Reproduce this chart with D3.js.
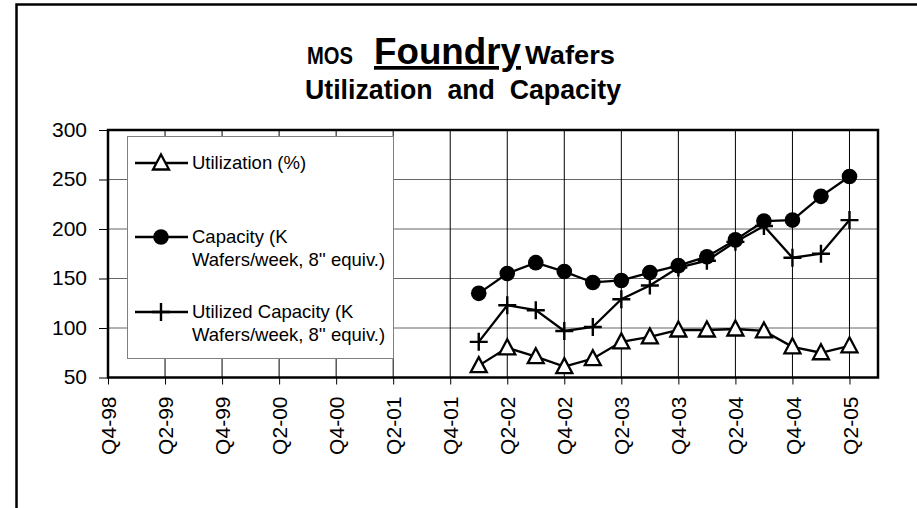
<!DOCTYPE html>
<html>
<head>
<meta charset="utf-8">
<script src="https://cdn.jsdelivr.net/npm/d3@7"></script>
<style>
body { margin: 0; background: #fff; }
svg text { font-family: "Liberation Sans", Arial, sans-serif; fill: #000; }
</style>
</head>
<body>
<div id="chart"></div>
<script>
// quarters on the category axis (one point each)
var quarters = ["Q4-98","Q1-99","Q2-99","Q3-99","Q4-99","Q1-00","Q2-00","Q3-00","Q4-00",
  "Q1-01","Q2-01","Q3-01","Q4-01","Q1-02","Q2-02","Q3-02","Q4-02","Q1-03","Q2-03","Q3-03",
  "Q4-03","Q1-04","Q2-04","Q3-04","Q4-04","Q1-05","Q2-05","Q3-05"];
var tickLabels = ["Q4-98","Q2-99","Q4-99","Q2-00","Q4-00","Q2-01","Q4-01","Q2-02","Q4-02",
  "Q2-03","Q4-03","Q2-04","Q4-04","Q2-05"];
var dataQuarters = ["Q1-02","Q2-02","Q3-02","Q4-02","Q1-03","Q2-03","Q3-03","Q4-03",
  "Q1-04","Q2-04","Q3-04","Q4-04","Q1-05","Q2-05"];
var utilization = [62, 80, 71, 61, 69, 86, 91, 98, 98, 99, 97, 81, 75, 82];
var capacity = [135, 155, 166, 157, 146, 148, 156, 163, 172, 189, 208, 209, 233, 253];
var utilized = [86, 123, 118, 97, 101, 129, 143, 161, 168, 187, 203, 171, 175, 209];
var yTicks = [50, 100, 150, 200, 250, 300];

var W = 917, H = 508;
var plot = {left: 108, right: 878, top: 130, bottom: 377.5};

var svg = d3.select("#chart").append("svg")
  .attr("width", W).attr("height", H);

// outer frame (runs off right and bottom)
svg.append("path")
  .attr("d", "M16.5," + H + "V4.5H" + W)
  .attr("fill", "none").attr("stroke", "#000").attr("stroke-width", 2.5);

var x = d3.scalePoint().domain(quarters).range([plot.left, plot.right]);
var y = d3.scaleLinear().domain([50, 300]).range([plot.bottom, plot.top]);

// title - pieces placed separately, widths matched to the picture
function titlePart(txt, x0, w, size, base){
  return svg.append("text").attr("x", x0).attr("y", base)
    .attr("textLength", w).attr("lengthAdjust", "spacingAndGlyphs")
    .style("font-weight", "bold").style("font-size", size + "px")
    .style("white-space", "pre").text(txt);
}
titlePart("MOS", 307, 46, 23, 64);
titlePart("Foundry", 374, 147, 37, 64).style("text-decoration", "underline");
titlePart("Wafers", 525, 90, 26, 64);
titlePart("Utilization  and  Capacity", 305, 316, 27, 99);

// grid
var g = svg.append("g");
g.selectAll(".hg").data(yTicks.slice(1, -1)).enter().append("line")
  .attr("x1", plot.left).attr("x2", plot.right)
  .attr("y1", function(d){ return y(d); }).attr("y2", function(d){ return y(d); })
  .attr("stroke", "#666").attr("stroke-width", 1);
g.selectAll(".vg").data(tickLabels.slice(1)).enter().append("line")
  .attr("x1", function(d){ return x(d); }).attr("x2", function(d){ return x(d); })
  .attr("y1", plot.top).attr("y2", plot.bottom)
  .attr("stroke", "#000").attr("stroke-width", 1);

// axes
var yAxis = d3.axisLeft(y).tickValues(yTicks).tickSize(9).tickPadding(12);
var ya = svg.append("g").attr("transform", "translate(" + plot.left + ",0)").call(yAxis);
ya.select(".domain").remove();
ya.selectAll("text").style("font-size", "21px").attr("dy", "0.3em");

var xAxis = d3.axisBottom(x).tickValues(tickLabels).tickSize(7).tickPadding(6);
var xa = svg.append("g").attr("transform", "translate(0," + plot.bottom + ")").call(xAxis);
xa.select(".domain").remove();
xa.selectAll("text")
  .style("font-size", "21px")
  .style("text-anchor", "end")
  .attr("transform", "rotate(-90)")
  .attr("x", -19).attr("y", 0).attr("dy", "0.36em");

// plot frame
svg.append("rect")
  .attr("x", plot.left).attr("y", plot.top)
  .attr("width", plot.right - plot.left).attr("height", plot.bottom - plot.top)
  .attr("fill", "none").attr("stroke", "#000").attr("stroke-width", 2.5);

// series
var line = d3.line()
  .x(function(d, i){ return x(dataQuarters[i]); })
  .y(function(d){ return y(d); });

function triangle(sel){
  sel.append("path").attr("d", "M0,-8.5L8,6.5L-8,6.5Z")
    .attr("fill", "#fff").attr("stroke", "#000").attr("stroke-width", 2.3)
    .attr("stroke-linejoin", "miter");
}
function dot(sel){
  sel.append("circle").attr("r", 7.8).attr("fill", "#000");
}
function plus(sel){
  sel.append("path").attr("d", "M-9,0H9M0,-9V9")
    .attr("stroke", "#000").attr("stroke-width", 2.4);
}

var series = [
  {name: "Utilization (%)", values: utilization, marker: triangle},
  {name: "Capacity (K|Wafers/week, 8'' equiv.)", values: capacity, marker: dot},
  {name: "Utilized Capacity (K|Wafers/week, 8'' equiv.)", values: utilized, marker: plus}
];

series.forEach(function(s){
  svg.append("path").datum(s.values).attr("d", line)
    .attr("fill", "none").attr("stroke", "#000").attr("stroke-width", 2.3);
});
series.forEach(function(s){
  svg.selectAll(null).data(s.values).enter().append("g")
    .attr("transform", function(d, i){ return "translate(" + x(dataQuarters[i]) + "," + y(d) + ")"; })
    .call(s.marker);
});

// legend
var lg = svg.append("g");
lg.append("rect").attr("x", 127.5).attr("y", 136.5).attr("width", 266).attr("height", 222)
  .attr("fill", "#fff").attr("stroke", "#808080").attr("stroke-width", 1);
var rowY = [163, 237, 312];
series.forEach(function(s, i){
  var r = lg.append("g").attr("transform", "translate(0," + rowY[i] + ")");
  r.append("line").attr("x1", 135).attr("x2", 188).attr("y1", 0).attr("y2", 0)
    .attr("stroke", "#000").attr("stroke-width", 2.3);
  r.append("g").attr("transform", "translate(161,0)").call(s.marker);
  var tx = r.append("text").attr("x", 192).attr("y", 0).style("font-size", "18.5px");
  s.name.split("|").forEach(function(part, k){
    tx.append("tspan").attr("x", 192).attr("dy", k === 0 ? "0.35em" : "22.5px").text(part);
  });
});
</script>
</body>
</html>
